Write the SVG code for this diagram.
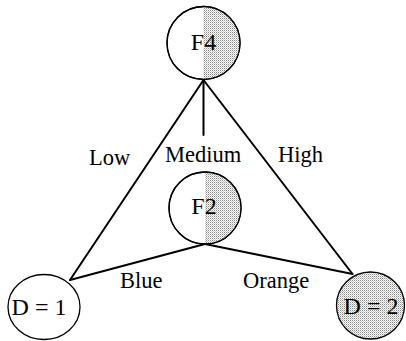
<svg xmlns="http://www.w3.org/2000/svg" width="406" height="341" viewBox="0 0 406 341">
<defs>
<pattern id="dots" width="2" height="2" patternUnits="userSpaceOnUse">
<rect width="2" height="2" fill="#ffffff"/>
<rect width="1" height="1" fill="#8a8a8a"/>
<rect x="1" y="1" width="1" height="1" fill="#c8c8c8"/>
</pattern>
</defs>
<style>
.node{fill:#fff;stroke:#000;stroke-width:1.3}
.shade{fill:url(#dots);stroke:none}
.ring{fill:none;stroke:#000;stroke-width:1.3}
.edge{stroke:#000;stroke-width:2;fill:none;stroke-linecap:round}
.t{font-family:"Liberation Serif","Times New Roman",serif;fill:#000}
.nl{font-size:24px;text-anchor:middle}
.el{font-size:22.5px}
</style>
<rect width="406" height="341" fill="#fff"/>
<g id="connectors">
<line class="edge" x1="203.5" y1="80" x2="203.5" y2="135"/>
<line class="edge" x1="203.5" y1="80" x2="70" y2="280"/>
<line class="edge" x1="203.5" y1="80" x2="352.5" y2="274"/>
<line class="edge" x1="205" y1="244" x2="70" y2="280"/>
<line class="edge" x1="205" y1="244" x2="352.5" y2="274"/>
<text class="t el" x="89" y="165">Low</text>
<text class="t el" x="165" y="162">Medium</text>
<text class="t el" x="278" y="162">High</text>
<text class="t el" x="120" y="288">Blue</text>
<text class="t el" x="243" y="288">Orange</text>
</g>
<g id="F4">
<circle class="node" cx="203.5" cy="43" r="36.5"/>
<path class="shade" d="M203.5,6.5 A36.5,36.5 0 0 1 203.5,79.5 Z"/>
<circle class="ring" cx="203.5" cy="43" r="36.5"/>
<text class="t nl" x="203.5" y="50">F4</text>
</g>
<g id="F2">
<circle class="node" cx="205" cy="208" r="36"/>
<path class="shade" d="M205,172 A36,36 0 0 1 205,244 Z"/>
<circle class="ring" cx="205" cy="208" r="36"/>
<text class="t nl" x="204" y="214">F2</text>
</g>
<g id="D1">
<ellipse class="node" cx="44" cy="307" rx="36" ry="32.5"/>
<text class="t nl" x="39" y="315">D = 1</text>
</g>
<g id="D2">
<ellipse class="shade" cx="370.5" cy="305.5" rx="34" ry="33.5"/>
<ellipse class="ring" cx="370.5" cy="305.5" rx="34" ry="33.5"/>
<text class="t nl" x="371" y="314">D = 2</text>
</g>
</svg>
